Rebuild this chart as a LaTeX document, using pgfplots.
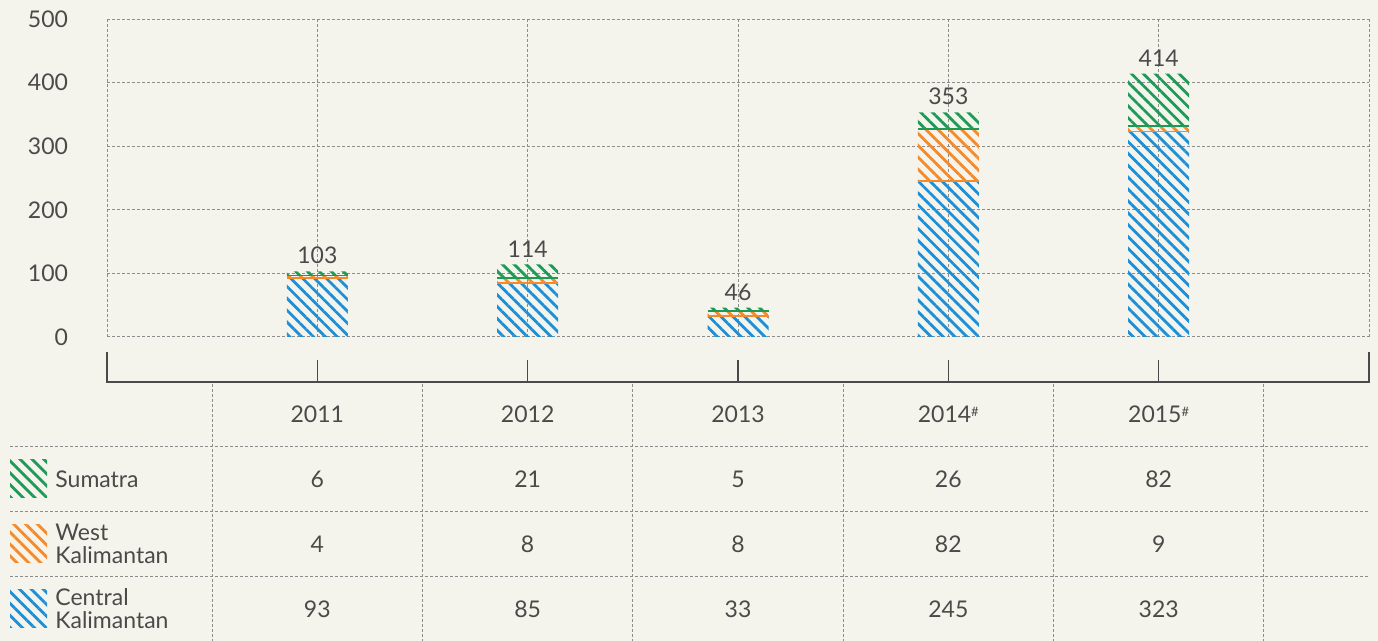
\documentclass[border=0pt]{standalone}
\usepackage{pgfplots}
\pgfplotsset{compat=1.18}
\usepackage{pgfplotstable}
\usepackage{fontspec}
\setmainfont{Lato}
\usetikzlibrary{patterns.meta}

\definecolor{bgc}{HTML}{F5F4EC}
\definecolor{txt}{HTML}{4A4A4A}
\definecolor{gridc}{HTML}{8C8C8C}
\definecolor{sumc}{HTML}{1E9A57}
\definecolor{westc}{HTML}{F58A2A}
\definecolor{centc}{HTML}{1B8FD8}

\pgfplotsset{/pgf/number format/assume math mode=true}
\newcommand{\lbl}{\fontsize{11.5}{11.5}\selectfont}
\tikzset{
  hatch/.style={pattern={Lines[angle=-45,distance=4.2pt,line width=1.4pt]}},
  tgrid/.style={gridc, line width=0.5pt, dash pattern=on 1.5pt off 1pt},
}
\pgfplotsset{
  textonly/.style={only marks, mark=*, mark size=0pt,
    scatter/use mapped color={draw=none, fill=none},
    nodes near coords, point meta=explicit},
}

% hotspot counts per region
\pgfplotstableread{
x total sumatra west central
1 103 6 4 93
2 114 21 8 85
3 46 5 8 33
4 353 26 82 245
5 414 82 9 323
}\fires

\begin{document}
\begin{tikzpicture}
\useasboundingbox (0,0) rectangle (689pt,-320.5pt);
\fill[bgc] (0,0) rectangle (689pt,-320.5pt);

% bars
\begin{axis}[
    at={(53.5pt,-168.5pt)}, anchor=south west,
    width=631pt, height=159pt, scale only axis,
    xmin=0, xmax=6, ymin=0, ymax=500,
    xtick={0,...,6}, xticklabels={},
    ytick={0,100,...,500},
    grid=major,
    major grid style={tgrid},
    axis line style={draw=none},
    tick style={draw=none},
    yticklabel style={font=\lbl, text=txt, xshift=-16pt},
    ybar stacked, bar width=0.29,
    clip=false,
]
\addplot[draw=none, hatch, pattern color=centc] table[x=x, y=central]{\fires};
\addplot[draw=none, hatch, pattern color=westc] table[x=x, y=west]{\fires};
\addplot[draw=none, hatch, pattern color=sumc] table[x=x, y=sumatra]{\fires};
\end{axis}

% segment bottom edges and totals
\begin{axis}[
    at={(53.5pt,-168.5pt)}, anchor=south west,
    width=631pt, height=159pt, scale only axis,
    xmin=0, xmax=6, ymin=0, ymax=500, hide axis, clip=false,
    unbounded coords=jump,
]
\addplot[westc, line width=0.8pt] coordinates {
 (0.855,93) (1.145,93) (1,nan)
 (1.855,85) (2.145,85) (2,nan)
 (2.855,33) (3.145,33) (3,nan)
 (3.855,245) (4.145,245) (4,nan)
 (4.855,323) (5.145,323)};
\addplot[sumc, line width=0.8pt] coordinates {
 (0.855,97) (1.145,97) (1,nan)
 (1.855,93) (2.145,93) (2,nan)
 (2.855,41) (3.145,41) (3,nan)
 (3.855,327) (4.145,327) (4,nan)
 (4.855,332) (5.145,332)};
\addplot[textonly,
    every node near coord/.append style={font=\lbl, text=txt, anchor=south, inner sep=0pt, yshift=3.5pt}]
    table[x=x, y=total, meta=total]{\fires};
\end{axis}

% data table
\begin{axis}[
    at={(53.5pt,-321pt)}, anchor=south west,
    width=631pt, height=130pt, scale only axis,
    xmin=0, xmax=6, ymin=0, ymax=4, hide axis, clip=false,
]
\draw[tgrid] (axis cs:-0.461,3) -- (axis cs:6,3);
\draw[tgrid] (axis cs:-0.461,2) -- (axis cs:6,2);
\draw[tgrid] (axis cs:-0.461,1) -- (axis cs:6,1);
\draw[tgrid] (axis cs:0.5,0) -- (axis cs:0.5,3.97);
\draw[tgrid] (axis cs:1.5,0) -- (axis cs:1.5,3.97);
\draw[tgrid] (axis cs:2.5,0) -- (axis cs:2.5,3.97);
\draw[tgrid] (axis cs:3.5,0) -- (axis cs:3.5,3.97);
\draw[tgrid] (axis cs:4.5,0) -- (axis cs:4.5,3.97);
\draw[tgrid] (axis cs:5.5,0) -- (axis cs:5.5,3.97);
% bracket
\draw[txt, line width=1pt] (axis cs:0,4.46) -- (axis cs:0,4) -- (axis cs:6,4) -- (axis cs:6,4.46);
\draw[txt, line width=0.6pt] (axis cs:1,4) -- (axis cs:1,4.34);
\draw[txt, line width=0.6pt] (axis cs:2,4) -- (axis cs:2,4.34);
\draw[txt, line width=0.6pt] (axis cs:3,4) -- (axis cs:3,4.34);
\draw[txt, line width=0.6pt] (axis cs:4,4) -- (axis cs:4,4.34);
\draw[txt, line width=0.6pt] (axis cs:5,4) -- (axis cs:5,4.34);
% header
\node[font=\lbl, text=txt] at (axis cs:1,3.5) {2011};
\node[font=\lbl, text=txt] at (axis cs:2,3.5) {2012};
\node[font=\lbl, text=txt] at (axis cs:3,3.5) {2013};
\node[font=\lbl, text=txt] at (axis cs:4,3.5) {2014\raisebox{0.55ex}{\fontsize{6.5}{6.5}\selectfont\#}};
\node[font=\lbl, text=txt] at (axis cs:5,3.5) {2015\raisebox{0.55ex}{\fontsize{6.5}{6.5}\selectfont\#}};
% values
\pgfplotsset{tabrow/.style={textonly,
    every node near coord/.append style={font=\lbl, text=txt, anchor=center}}}
\addplot[tabrow] table[x=x, y expr=2.5, meta=sumatra]{\fires};
\addplot[tabrow] table[x=x, y expr=1.5, meta=west]{\fires};
\addplot[tabrow] table[x=x, y expr=0.5, meta=central]{\fires};
\end{axis}

% legend
\fill[hatch, pattern color=sumc] (5pt,-230pt) rectangle (23.5pt,-249pt);
\fill[hatch, pattern color=westc] (5pt,-262.5pt) rectangle (23.5pt,-281.5pt);
\fill[hatch, pattern color=centc] (5pt,-295pt) rectangle (23.5pt,-314pt);
\node[anchor=west, inner sep=0, font=\lbl, text=txt] at (27.5pt,-239.5pt) {Sumatra};
\node[anchor=west, inner sep=0, align=left, font=\lbl, text=txt] at (27.5pt,-272pt) {West\\Kalimantan};
\node[anchor=west, inner sep=0, align=left, font=\lbl, text=txt] at (27.5pt,-304.5pt) {Central\\Kalimantan};
\end{tikzpicture}
\end{document}
